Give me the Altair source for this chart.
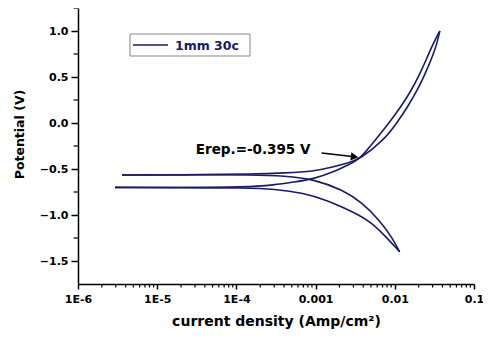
import altair as alt
import pandas as pd

# Cyclic polarization curve, four branches (current density A/cm2, potential V)
# lower (forward) cathodic branch
cath_fwd_i = [2.94e-6, 2.0e-5, 1.29e-4, 3.03e-4, 7.1e-4, 1.37e-3, 3.2e-3, 5.2e-3, 8.43e-3, 0.0115]
cath_fwd_E = [-0.700, -0.702, -0.706, -0.717, -0.761, -0.837, -0.978, -1.087, -1.272, -1.40]
# forward anodic branch
anod_fwd_i = [2.94e-6, 2.0e-5, 1.29e-4, 3.03e-4, 5.35e-4, 9.4e-4, 1.67e-3, 2.55e-3, 3.6e-3,
              5.66e-3, 8.43e-3, 1.19e-2, 1.60e-2, 2.04e-2, 2.55e-2, 3.03e-2, 3.70e-2]
anod_fwd_E = [-0.700, -0.701, -0.698, -0.674, -0.641, -0.609, -0.533, -0.457, -0.395,
              -0.185, 0.0, 0.174, 0.348, 0.522, 0.707, 0.859, 1.0]
# reverse anodic branch
anod_rev_i = [3.6e-6, 2.0e-5, 1.72e-4, 4.03e-4, 9.4e-4, 1.67e-3, 2.55e-3, 3.6e-3, 7.3e-3,
              1.06e-2, 1.45e-2, 1.90e-2, 2.38e-2, 2.94e-2, 3.40e-2, 3.70e-2]
anod_rev_E = [-0.565, -0.563, -0.556, -0.543, -0.527, -0.478, -0.435, -0.395, -0.185,
              0.0, 0.174, 0.348, 0.522, 0.707, 0.859, 1.0]
# reverse cathodic branch
cath_rev_i = [3.6e-6, 2.0e-5, 1.72e-4, 4.03e-4, 9.4e-4, 2.22e-3, 3.92e-3, 6.34e-3, 9.18e-3, 0.0115]
cath_rev_E = [-0.565, -0.563, -0.563, -0.576, -0.609, -0.728, -0.870, -1.054, -1.239, -1.40]

series_name = "1mm 30c"

x_major = [1e-6, 1e-5, 1e-4, 1e-3, 1e-2, 1e-1]
x_minor = [m * d for d in [1e-6, 1e-5, 1e-4, 1e-3, 1e-2] for m in range(2, 10)]
y_major = [-1.5, -1.0, -0.5, 0.0, 0.5, 1.0]
y_minor = [-1.25, -0.75, -0.25, 0.25, 0.75, 1.25]

# annotation
erep_label = "Erep.=-0.395 V"
erep_text_pos = (8.6e-4, -0.293)
arrow_start = (1.19e-3, -0.326)
arrow_end = (3.1e-3, -0.368)

rows = []
for name, xs, ys in [("cf", cath_fwd_i, cath_fwd_E), ("af", anod_fwd_i, anod_fwd_E),
                     ("ar", anod_rev_i, anod_rev_E), ("cr", cath_rev_i, cath_rev_E)]:
    for k, (a, b) in enumerate(zip(xs, ys)):
        rows.append({"i": a, "E": b, "branch": name, "order": k})
df = pd.DataFrame(rows)

FONT = "DejaVu Sans"
NAVY = "#1a1a66"

xscale = alt.Scale(type="log", domain=[1e-6, 0.1], nice=False)
yscale = alt.Scale(domain=[-1.75, 1.25], nice=False)

x_axis = alt.Axis(
    values=x_major, title="current density (Amp/cm²)",
    labelExpr="datum.value < 0.0005 ? '1E' + round(log(datum.value)/LN10) : '' + datum.value",
    grid=False, tickSize=5, orient="bottom", labelPadding=4, titlePadding=10,
    labelFlush=False, titleFontSize=14,
)
y_axis = alt.Axis(
    values=y_major, format=".1f", title="Potential (V)", grid=False,
    tickSize=7, orient="left", labelPadding=3, titlePadding=13,
    titleFontSize=12.5, titleY=126,
)

line = alt.Chart(df).mark_line(strokeWidth=1.6, interpolate="basis", color=NAVY).encode(
    x=alt.X("i:Q", scale=xscale, axis=x_axis),
    y=alt.Y("E:Q", scale=yscale, axis=y_axis),
    detail="branch:N",
    order="order:Q",
)

# minor ticks drawn as short rules through the shared scales
xminor_df = pd.DataFrame({"v": x_minor})
yminor_df = pd.DataFrame({"v": y_minor})
xminor = alt.Chart(xminor_df).mark_rule(color="black", strokeWidth=1.2).encode(
    x=alt.X("v:Q", scale=xscale), y=alt.value(276), y2=alt.value(279.5))
yminor = alt.Chart(yminor_df).mark_rule(color="black", strokeWidth=1.2).encode(
    y=alt.Y("v:Q", scale=yscale), x=alt.value(0), x2=alt.value(-4.5))

ann_df = pd.DataFrame({
    "x": [arrow_start[0]], "y": [arrow_start[1]],
    "x2": [arrow_end[0]], "y2": [arrow_end[1]],
    "tx": [erep_text_pos[0]], "ty": [erep_text_pos[1]],
    "label": [erep_label],
})
shaft = alt.Chart(ann_df).mark_rule(color="black", strokeWidth=1.5).encode(
    x=alt.X("x:Q", scale=xscale), y=alt.Y("y:Q", scale=yscale),
    x2="x2:Q", y2="y2:Q",
)
head = alt.Chart(ann_df).mark_point(
    shape="triangle-right", filled=True, color="black", size=70, angle=7, opacity=1
).encode(x=alt.X("x2:Q", scale=xscale), y=alt.Y("y2:Q", scale=yscale))
text = alt.Chart(ann_df).mark_text(
    align="right", baseline="middle", font=FONT, fontSize=13.5, fontWeight="bold", color="black"
).encode(x=alt.X("tx:Q", scale=xscale), y=alt.Y("ty:Q", scale=yscale), text="label:N")

# legend drawn by hand (box, sample line, label)
leg_df = pd.DataFrame({"label": [series_name]})
leg_box = alt.Chart(leg_df).mark_rect(fill="white", stroke="#888888", strokeWidth=1).encode(
    x=alt.value(52), x2=alt.value(172), y=alt.value(26), y2=alt.value(48))
leg_line = alt.Chart(leg_df).mark_rule(color=NAVY, strokeWidth=1.6).encode(
    x=alt.value(55), x2=alt.value(90), y=alt.value(37))
leg_text = alt.Chart(leg_df).mark_text(
    align="left", baseline="middle", font=FONT, fontSize=12.5, fontWeight="bold", color=NAVY
).encode(x=alt.value(97), y=alt.value(37.5), text="label:N")

chart = alt.layer(line, xminor, yminor, shaft, head, text, leg_box, leg_line, leg_text).properties(
    width=396, height=276,
    autosize=alt.AutoSizeParams(type="none"),
    padding={"left": 70, "top": 0, "right": 9, "bottom": 46},
).configure_view(stroke=None, clip=False).configure_axis(
    labelFont=FONT, labelFontSize=11, labelFontWeight="bold", labelColor="black",
    titleFont=FONT, titleFontWeight="bold", titleColor="black",
    domainColor="black", tickColor="black", domainWidth=1.5, tickWidth=1.5,
)

chart.save("out.html", embed_options={"renderer": "svg", "actions": False})
